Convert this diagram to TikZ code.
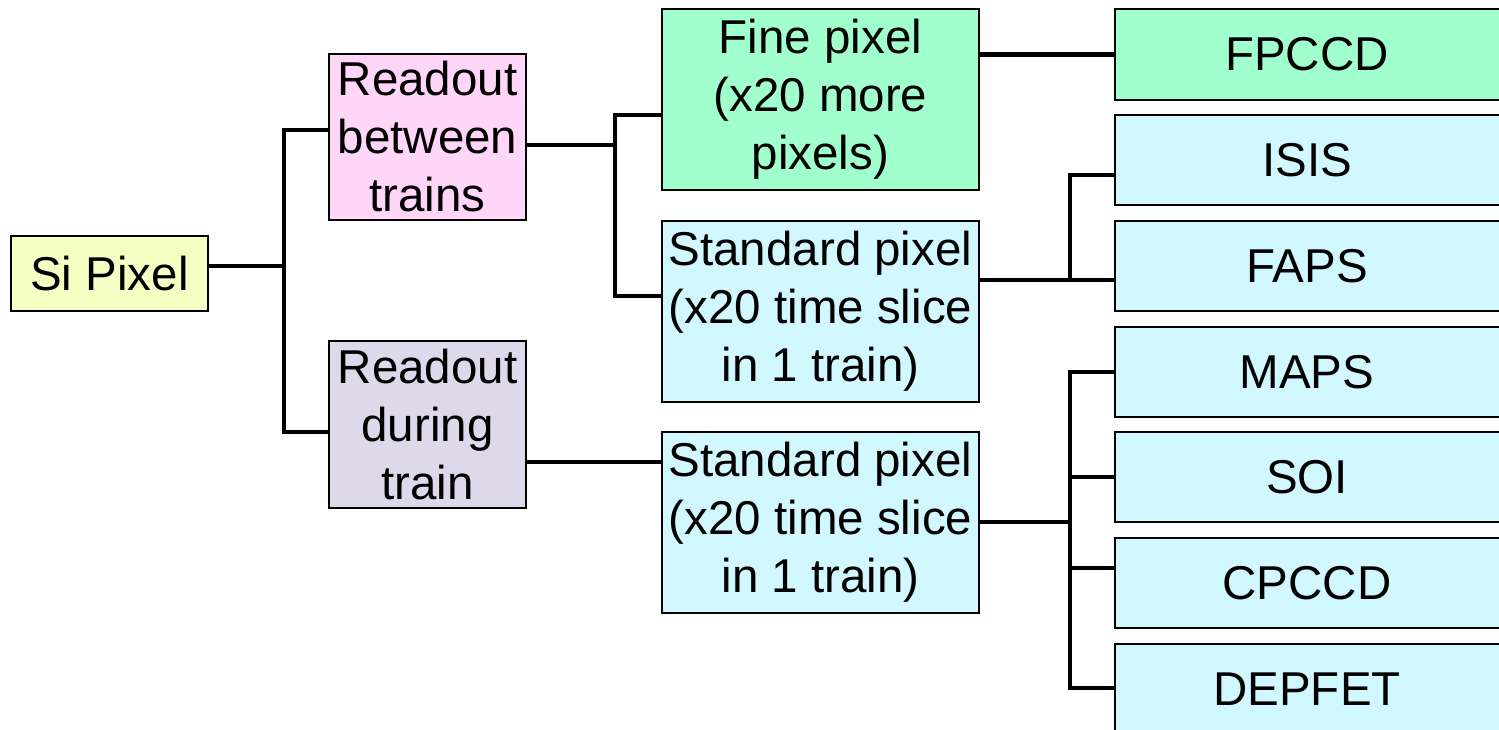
\documentclass[tikz,border=0pt]{standalone}
\usepackage{fontspec}
\setmainfont{Liberation Sans}
\definecolor{cyel}{RGB}{245,255,196}
\definecolor{cpink}{RGB}{255,213,248}
\definecolor{clav}{RGB}{221,217,234}
\definecolor{cgreen}{RGB}{160,255,204}
\definecolor{ccyan}{RGB}{210,248,255}
\begin{document}
\begin{tikzpicture}[x=1pt,y=-1pt,
  box/.style={draw=black, line width=1.5pt, inner sep=0pt, align=center,
    font=\fontsize{47.5}{58}\selectfont},
  rbox/.style={box, minimum width=400pt, minimum height=90pt},
  conn/.style={line width=4.8pt}]
\useasboundingbox (0,0) rectangle (1499,729);
\clip (0,0) rectangle (1499,729);
% left
\node[box, fill=cyel, minimum width=197pt, minimum height=75pt] (si) at (109.5,273.5) {Si Pixel};
\node[box, fill=cpink, minimum width=197pt, minimum height=166pt] (r1) at (427.5,137) {Readout\\between\\trains};
\node[box, fill=clav, minimum width=197pt, minimum height=167pt] (r2) at (427.5,424.5) {Readout\\during\\train};
% middle
\node[box, fill=cgreen, minimum width=317pt, minimum height=181pt] (fine) at (820.5,99.5) {Fine pixel\\(x20 more\\pixels)};
\node[box, fill=ccyan, minimum width=317pt, minimum height=181pt] (std1) at (820.5,311.5) {Standard pixel\\(x20 time slice\\in 1 train)};
\node[box, fill=ccyan, minimum width=317pt, minimum height=181pt] (std2) at (820.5,522.5) {Standard pixel\\(x20 time slice\\in 1 train)};
% right (boxes run past the right edge)
\node[rbox, fill=cgreen, minimum height=91pt] (fpccd) at (1315,54.5) {FPCCD\hspace*{16pt}};
\node[rbox, fill=ccyan] (isis) at (1315,160) {ISIS\hspace*{16pt}};
\node[rbox, fill=ccyan] (faps) at (1315,266) {FAPS\hspace*{16pt}};
\node[rbox, fill=ccyan] (maps) at (1315,372) {MAPS\hspace*{16pt}};
\node[rbox, fill=ccyan] (soi) at (1315,477) {SOI\hspace*{16pt}};
\node[rbox, fill=ccyan] (cpccd) at (1315,583) {CPCCD\hspace*{16pt}};
\node[rbox, fill=ccyan, minimum height=91pt] (depfet) at (1315,689.5) {DEPFET\hspace*{16pt}};
% junctions
\coordinate (j1t) at (284,130);
\coordinate (j1m) at (284,266);
\coordinate (j1b) at (284,432);
\coordinate (j2t) at (615,115);
\coordinate (j2m) at (615,145);
\coordinate (j2b) at (615,296);
\coordinate (c3) at (600,462);
\coordinate (j3t) at (1070,175);
\coordinate (j3m) at (1070,280);
\coordinate (j4t) at (1070,372);
\coordinate (j4s) at (1070,477);
\coordinate (j4m) at (1070,522);
\coordinate (j4c) at (1070,568);
\coordinate (j4b) at (1070,688);
% connectors
\draw[conn] (si.east |- j1m) -- (j1m);
\draw[conn] (r1.west |- j1t) -- (j1t) -- (j1b) -- (r2.west |- j1b);
\draw[conn] (r1.east |- j2m) -- (j2m);
\draw[conn] (fine.west |- j2t) -- (j2t) -- (j2b) -- (std1.west |- j2b);
\draw[conn] (r2.east |- c3) -- (std2.west |- c3);
\draw[conn] (fine.east |- fpccd.west) -- (fpccd.west);
\draw[conn] (std1.east |- j3m) -- (faps.west |- j3m);
\draw[conn] (isis.west |- j3t) -- (j3t) -- (j3m);
\draw[conn] (std2.east |- j4m) -- (j4m);
\draw[conn] (maps.west |- j4t) -- (j4t) -- (j4b) -- (depfet.west |- j4b);
\draw[conn] (j4s) -- (soi.west |- j4s);
\draw[conn] (j4c) -- (cpccd.west |- j4c);
\end{tikzpicture}
\end{document}
